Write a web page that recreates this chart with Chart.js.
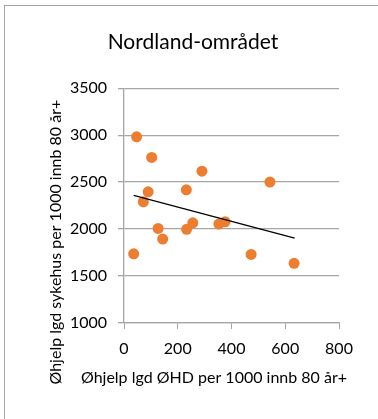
<!DOCTYPE html>
<html>
<head>
<meta charset="utf-8">
<script src="https://cdn.jsdelivr.net/npm/chart.js@4"></script>
<style>
	html, body { margin: 0; padding: 0; overflow: hidden; background: #fff; }
	#wrap { position: relative; width: 378px; height: 419px; }
	#frame { position: absolute; left: 4px; top: 5px; width: 420px; height: 440px; border: 1.5px solid #a6a6a6; box-sizing: border-box; }
	canvas { position: absolute; left: 0; top: 0; }
</style>
</head>
<body>
<div id="wrap">
	<div id="frame"></div>
	<canvas id="chart" width="378" height="419"></canvas>
</div>
<script>
const chartTitle = 'Nordland-området';
const xTitle = 'Øhjelp lgd ØHD per 1000 innb 80 år+';
const yTitle = 'Øhjelp lgd sykehus per 1000 innb 80 år+';

// ØHD per 1000 innb 80 år+ (x) vs sykehus per 1000 innb 80 år+ (y)
const ohdValues = [47, 103, 290, 543, 232, 90, 72, 127, 144, 233, 256, 353, 376, 36, 473, 633];
const sykehusValues = [2982, 2763, 2617, 2500, 2418, 2397, 2291, 2007, 1894, 1997, 2067, 2053, 2078, 1737, 1730, 1635];

// lineær trendlinje, endepunkter
const trendX = [36, 635];
const trendY = [2358, 1904];

const xTicks = [0, 200, 400, 600, 800];
const yTicks = [1000, 1500, 2000, 2500, 3000, 3500];

const FONT = 'Lato, "Open Sans", sans-serif';

function toPoints(xs, ys) {
	return xs.map((x, i) => ({x: x, y: ys[i]}));
}

// akse-titler tegnes selv for å sentrere dem slik Excel gjør
const axisTitles = {
	id: 'axisTitles',
	afterDraw(chart) {
		const ctx = chart.ctx;
		const area = chart.chartArea;
		ctx.save();
		ctx.fillStyle = '#000';
		ctx.font = '16px ' + FONT;
		ctx.textAlign = 'center';
		ctx.textBaseline = 'middle';
		const xTitleY = area.bottom + 55;
		ctx.fillText(xTitle, area.left + 90, xTitleY);
		ctx.translate(56, (area.top + xTitleY + 18) / 2);
		ctx.rotate(-Math.PI / 2);
		ctx.fillText(yTitle, 0, 0);
		ctx.restore();
	}
};

const ctx = document.getElementById('chart').getContext('2d');
new Chart(ctx, {
	type: 'scatter',
	data: {
		datasets: [
			{
				label: 'Trend',
				data: toPoints(trendX, trendY),
				showLine: true,
				borderColor: '#000',
				borderWidth: 1.3,
				pointRadius: 0,
				order: 0
			},
			{
				label: 'Nordland',
				data: toPoints(ohdValues, sykehusValues),
				backgroundColor: '#ED7D31',
				borderColor: '#ED7D31',
				borderWidth: 0,
				pointRadius: 5.5,
				order: 1
			}
		]
	},
	options: {
		responsive: false,
		animation: false,
		layout: { padding: { left: 47, right: 39, top: 0, bottom: 0 } },
		plugins: {
			legend: { display: false },
			tooltip: { enabled: false },
			title: {
				display: true,
				text: chartTitle,
				color: '#000',
				font: { family: FONT, size: 21, weight: 'normal' },
				padding: { top: 30, bottom: 33 }
			}
		},
		scales: {
			x: {
				type: 'linear',
				min: 0,
				max: 800,
				afterBuildTicks: s => { s.ticks = xTicks.map(v => ({value: v})); },
				afterFit: s => { s.height = 96; },
				grid: { drawOnChartArea: false, drawTicks: true, tickLength: 6, color: '#a6a6a6' },
				border: { color: '#a6a6a6', width: 1.3 },
				ticks: { color: '#000', padding: 10, font: { family: FONT, size: 16 }, maxRotation: 0, callback: v => String(v) }
			},
			y: {
				type: 'linear',
				min: 1000,
				max: 3500,
				afterBuildTicks: s => { s.ticks = yTicks.map(v => ({value: v})); },
				afterFit: s => { s.width = 77; },
				grid: { color: '#a6a6a6', lineWidth: 1.3, tickLength: 6 },
				border: { color: '#a6a6a6', width: 1.3 },
				ticks: { color: '#000', padding: 11, font: { family: FONT, size: 16 }, callback: v => String(v) }
			}
		}
	},
	plugins: [axisTitles]
});
</script>
</body>
</html>
